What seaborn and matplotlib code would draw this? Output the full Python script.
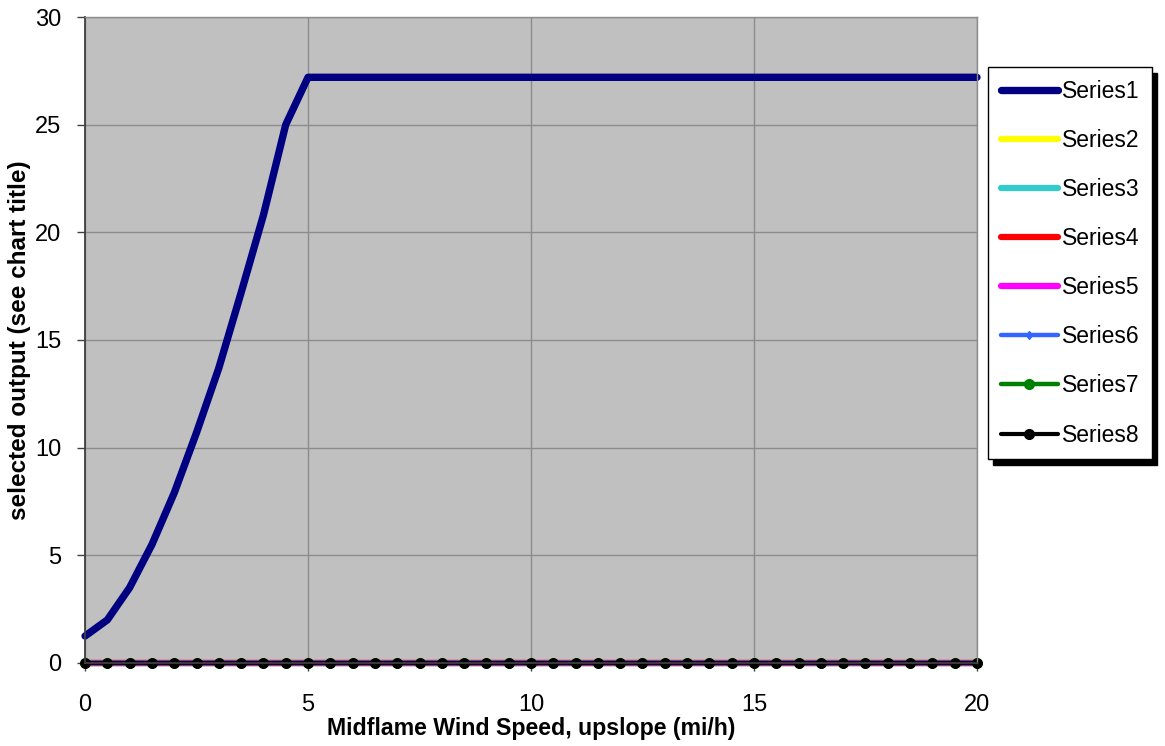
import numpy as np
import pandas as pd
import matplotlib
matplotlib.use('Agg')
import matplotlib.pyplot as plt
import seaborn as sns

# midflame wind speed (mi/h)
wind = [0.0, 0.5, 1.0, 1.5, 2.0, 2.5, 3.0, 3.5, 4.0, 4.5, 5.0,
        5.5, 6.0, 6.5, 7.0, 7.5, 8.0, 8.5, 9.0, 9.5, 10.0,
        10.5, 11.0, 11.5, 12.0, 12.5, 13.0, 13.5, 14.0, 14.5, 15.0,
        15.5, 16.0, 16.5, 17.0, 17.5, 18.0, 18.5, 19.0, 19.5, 20.0]

series1 = [1.25, 2.0, 3.5, 5.5, 7.9, 10.7, 13.7, 17.2, 20.8, 25.0, 27.2,
           27.2, 27.2, 27.2, 27.2, 27.2, 27.2, 27.2, 27.2, 27.2, 27.2,
           27.2, 27.2, 27.2, 27.2, 27.2, 27.2, 27.2, 27.2, 27.2, 27.2,
           27.2, 27.2, 27.2, 27.2, 27.2, 27.2, 27.2, 27.2, 27.2, 27.2]
zeros = [0.0] * len(wind)
series2 = zeros
series3 = zeros
series4 = zeros
series5 = zeros
series6 = zeros
series7 = zeros
series8 = zeros

names = ['Series1', 'Series2', 'Series3', 'Series4',
         'Series5', 'Series6', 'Series7', 'Series8']
values = [series1, series2, series3, series4,
          series5, series6, series7, series8]
colors = ['#000080', '#FFFF00', '#33CCCC', '#FF0000',
          '#FF00FF', '#3366FF', '#008000', '#000000']
widths = [5.3, 4.5, 4.5, 4.5, 4.5, 3.2, 3.2, 3.0]
markers = [None, None, None, None, None, 'd', 'o', 'o']
msizes = [0, 0, 0, 0, 0, 4.5, 7, 7]

sns.set_style('white')
plt.rcParams['font.family'] = ['Liberation Sans', 'DejaVu Sans']
plt.rcParams['text.color'] = 'black'

fig = plt.figure(figsize=(11.65, 7.46), dpi=100)
ax = fig.add_axes([0.073, 0.1113, 0.7656, 0.8659])
ax.set_facecolor('#C0C0C0')

handles = []
for name, vals, c, lw, m, ms in zip(names, values, colors, widths, markers, msizes):
    df = pd.DataFrame({'wind': wind, 'y': vals})
    sns.lineplot(data=df, x='wind', y='y', ax=ax, color=c, linewidth=lw,
                 marker=m, markersize=ms, markeredgecolor=c,
                 clip_on=False, legend=False)
    h, = ax.plot([], [], color=c, linewidth=lw, marker=m, markersize=ms,
                 markeredgecolor=c, label=name, solid_capstyle='round')
    handles.append(h)

ax.set_xlim(0, 20)
ax.set_ylim(0, 30)
ax.set_xticks([0, 5, 10, 15, 20])
ax.set_yticks([0, 5, 10, 15, 20, 25, 30])
ax.grid(True, color='#8C8C8C', linewidth=1)
ax.set_axisbelow(True)
for s in ['top', 'right']:
    ax.spines[s].set_color('#8C8C8C')
    ax.spines[s].set_linewidth(1)
for s in ['left', 'bottom']:
    ax.spines[s].set_color('#404040')
    ax.spines[s].set_linewidth(1.3)
ax.tick_params(axis='both', direction='out', length=6, width=1,
               color='#404040', labelsize=17, labelcolor='black',
               bottom=True, left=True)
ax.tick_params(axis='x', pad=16)
ax.tick_params(axis='y', pad=11)
ax.set_xlabel('Midflame Wind Speed, upslope (mi/h)', fontsize=16.7,
              fontweight='bold', labelpad=1, color='black')
ax.set_ylabel('selected output (see chart title)', fontsize=17.5,
              fontweight='bold', labelpad=3, color='black')

leg = fig.legend(handles=handles, loc='upper left',
                 bbox_to_anchor=(0.848, 0.91), fontsize=16.5,
                 frameon=True, fancybox=False,
                 shadow={'color': 'black', 'alpha': 1, 'ox': 4, 'oy': -4},
                 borderpad=0.55, labelspacing=1.14, handlelength=2.5,
                 handletextpad=0.17, borderaxespad=0)
leg.get_frame().set_edgecolor('black')
leg.get_frame().set_linewidth(1)
for t in leg.get_texts():
    t.set_color('black')

fig.savefig('out.png', dpi=100)
